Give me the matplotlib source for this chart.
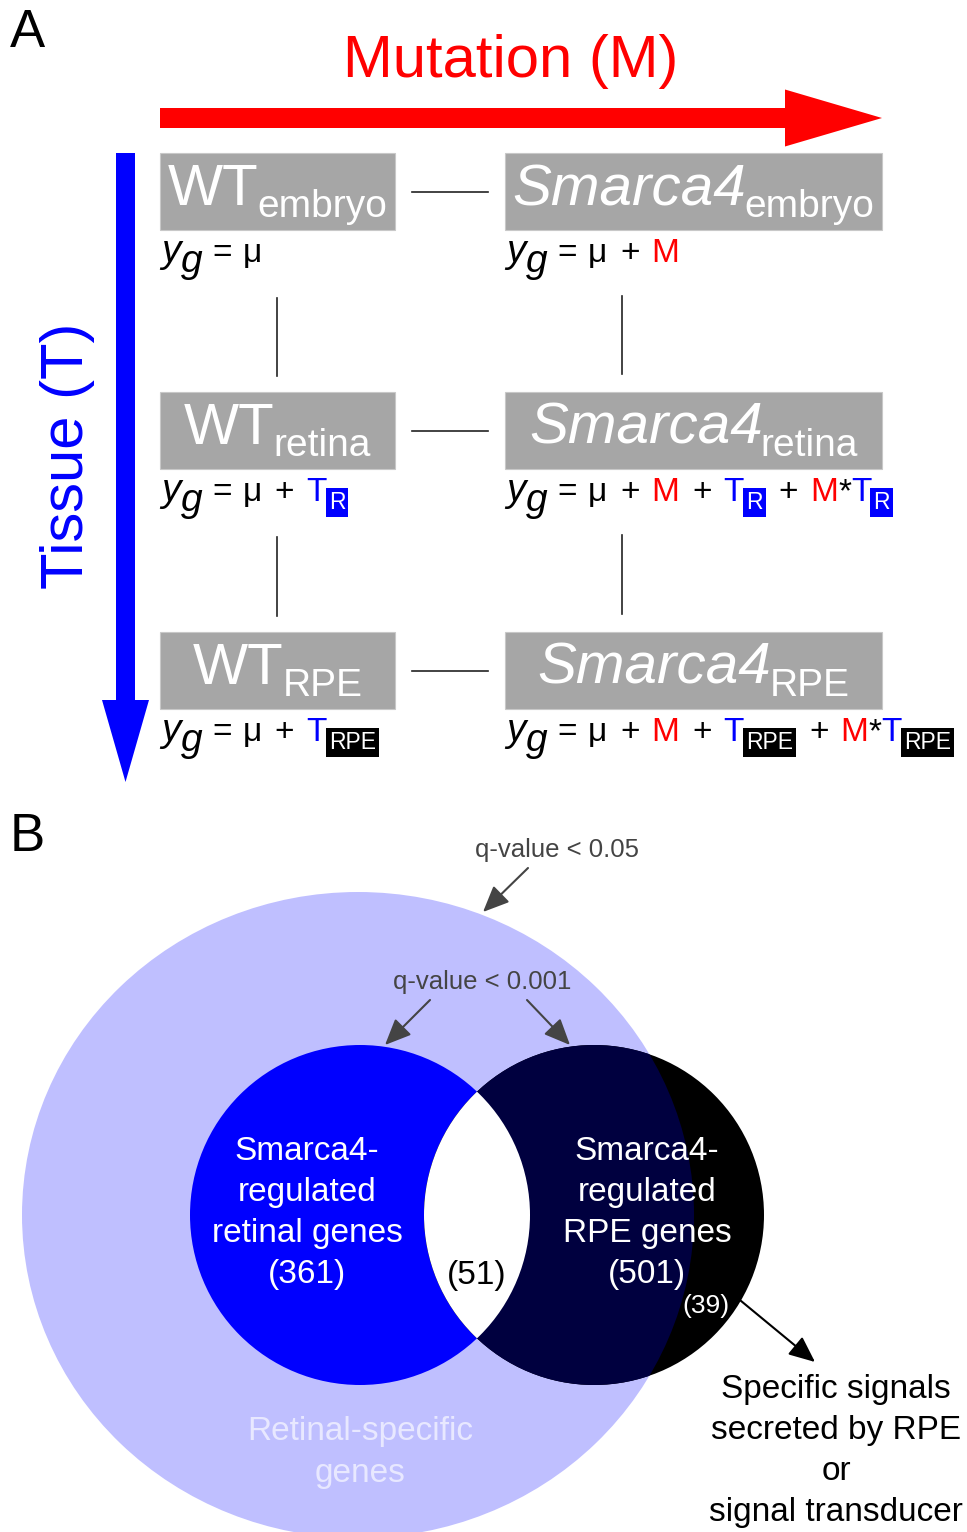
import matplotlib
matplotlib.use('Agg')
import matplotlib.pyplot as plt
from matplotlib.patches import Rectangle, Circle, Ellipse, FancyArrow

plt.rcParams['font.family'] = ['Liberation Sans', 'DejaVu Sans']

# ---- data ----
genotypes = ['WT', 'Smarca4']
tissues = ['embryo', 'retina', 'RPE']
tissue_tags = ['', 'R', 'RPE']
tag_colours = {'R': '#0000ff', 'RPE': 'black'}

venn_sets = [['Smarca4-', 'regulated', 'retinal genes'],
             ['Smarca4-', 'regulated', 'RPE genes']]
venn_counts = [361, 501]
overlap_count = 51
secreted_count = 39
outer_label = ['Retinal-specific', 'genes']
q_outer = 'q-value < 0.05'
q_inner = 'q-value < 0.001'
callout = ['Specific signals', 'secreted by RPE', 'or', 'signal transducer']

W, H = 967, 1532
fig = plt.figure(figsize=(W / 100, H / 100), dpi=100)
ax = fig.add_axes([0, 0, 1, 1])
ax.set_xlim(0, W)
ax.set_ylim(H, 0)
ax.axis('off')
r = fig.canvas.get_renderer()

RED = '#ff0000'
BLUE = '#0000ff'
GREY = '#a6a6a6'


def put(x, y, s, size, color='black', style='normal', box=None):
    t = ax.text(x, y, s, fontsize=size, color=color, style=style,
                ha='left', va='baseline', bbox=box)
    return t.get_window_extent(renderer=r).width


# ---- panel A ----
ax.text(10, 47, 'A', fontsize=38, va='baseline')
ax.text(511, 77, 'Mutation (M)', fontsize=43, color=RED, ha='center', va='baseline')
ax.add_patch(FancyArrow(160, 118, 722, 0, width=20, head_width=57, head_length=97,
                        length_includes_head=True, color=RED, lw=0))
ax.text(83, 456, 'Tissue (T)', fontsize=43, color=BLUE, rotation=90,
        rotation_mode='anchor', ha='center', va='baseline')
ax.add_patch(FancyArrow(125.5, 153, 0, 629, width=19, head_width=47, head_length=82,
                        length_includes_head=True, color=BLUE, lw=0))

col_x = [160, 505]
col_w = [235, 377]
row_top = [153, 392, 632]
box_h = 77


def eq_tokens(mutant, tag):
    # (text, size, colour, style, dy, tag?, gap before)
    toks = [('y', 28, 'black', 'italic', 0, False, 0),
            ('g', 28, 'black', 'italic', 10, False, 0),
            ('=', 24, 'black', 'normal', 0, False, 10),
            ('μ', 24, 'black', 'normal', 0, False, 11)]
    terms = []
    if mutant:
        terms.append(['M'])
    if tag:
        terms.append(['T'])
    if mutant and tag:
        terms.append(['M', '*', 'T'])
    for term in terms:
        toks.append(('+', 24, 'black', 'normal', 0, False, 13))
        gap = 12
        for sym in term:
            col = {'M': RED, 'T': BLUE}.get(sym, 'black')
            toks.append((sym, 24, col, 'normal', 0, False, gap))
            gap = 0
            if sym == 'T':
                toks.append((tag, 16.5, 'white', 'normal', 8, True, 2))
    return toks


for ci, g in enumerate(genotypes):
    cx = col_x[ci] + col_w[ci] / 2
    for ri, tis in enumerate(tissues):
        top = row_top[ri]
        ax.add_patch(Rectangle((col_x[ci], top), col_w[ci], box_h, fc=GREY, ec='#c8c8c8', lw=0.8))
        t1 = ax.text(0, top + 52, g, fontsize=42, color='white', va='baseline',
                     style='italic' if ci == 1 else 'normal')
        t2 = ax.text(0, top + 64, tis, fontsize=28, color='white', va='baseline')
        w1 = t1.get_window_extent(renderer=r).width
        w2 = t2.get_window_extent(renderer=r).width
        gap = -2 if ci == 1 else -1
        x0 = cx - (w1 + w2 + gap) / 2
        t1.set_x(x0)
        t2.set_x(x0 + w1 + gap)

        # equation under the box
        x = col_x[ci] + 1
        base = top + box_h + 32
        for s, size, colr, style, dy, is_tag, gap in eq_tokens(ci == 1, tissue_tags[ri]):
            x += gap
            box = None
            if is_tag:
                box = dict(boxstyle='square,pad=0.14', fc=tag_colours[s], ec='none')
            x += put(x, base + dy, s, size, colr, style, box)
            if is_tag:
                x += 3

# connectors
for ri in range(3):
    ym = row_top[ri] + box_h / 2
    ax.plot([412, 488], [ym, ym], color='#222222', lw=1.2)
for ri in range(2):
    y0 = row_top[ri] + box_h + 68
    y1 = row_top[ri + 1] - 16
    ax.plot([277, 277], [y0, y1], color='#222222', lw=1.2)
    ax.plot([622, 622], [y0 - 2, y1 - 2], color='#222222', lw=1.2)

# ---- panel B ----
ax.text(10, 851, 'B', fontsize=38, va='baseline')

outer = Ellipse((358, 1215), 672, 646, fc='#bfbfff', ec='none')
ax.add_patch(outer)
c_ret = Circle((360, 1215), 170, fc=BLUE, ec='none')
c_rpe = Circle((594, 1215), 170, fc='black', ec='none')
ax.add_patch(c_ret)
ax.add_patch(c_rpe)
navy = Ellipse((358, 1215), 672, 646, fc='#00003f', ec='none')
ax.add_patch(navy)
navy.set_clip_path(c_rpe)
lens = Circle((360, 1215), 170, fc='white', ec='none')
ax.add_patch(lens)
lens.set_clip_path(c_rpe)

baselines = [1160, 1201, 1242, 1283]
for cx, lines, n in zip([307, 647], venn_sets, venn_counts):
    for yb, s in zip(baselines, lines + [f'({n})']):
        ax.text(cx, yb, s, fontsize=24, color='white', ha='center', va='baseline')
ax.text(477, 1284, f'({overlap_count})', fontsize=24, ha='center', va='baseline')
ax.text(706, 1313, f'({secreted_count})', fontsize=19, color='white', ha='center', va='baseline')

for yb, s in zip([1440, 1482], outer_label):
    ax.text(360, yb, s, fontsize=24, color='#e8e8ff', ha='center', va='baseline')
for yb, s in zip([1398, 1439, 1480, 1521], callout):
    ax.text(836, yb, s, fontsize=24, ha='center', va='baseline')

ax.text(557, 857, q_outer, fontsize=18.5, color='#444444', ha='center', va='baseline')
ax.text(482, 989, q_inner, fontsize=18.5, color='#444444', ha='center', va='baseline')

arrows = [((528, 868), (483, 912), '#444444'),
          ((430, 1000), (385, 1045), '#444444'),
          ((527, 1000), (570, 1045), '#444444'),
          ((712, 1277), (815, 1362), 'black')]
for start, tip, colr in arrows:
    ax.annotate('', xy=tip, xytext=start,
                arrowprops=dict(arrowstyle='-|>,head_length=0.8,head_width=0.35',
                                mutation_scale=20, color=colr, lw=1.5,
                                shrinkA=0, shrinkB=0))

fig.savefig('out.png', dpi=100)
